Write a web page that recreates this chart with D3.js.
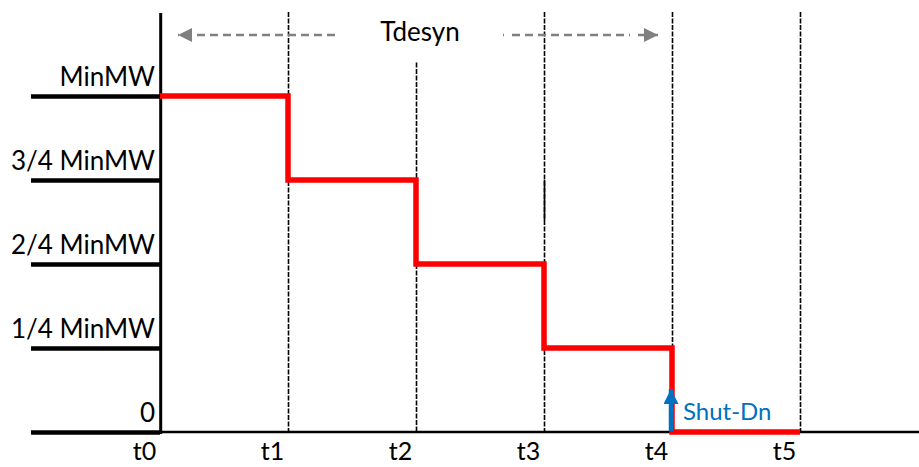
<!DOCTYPE html>
<html>
<head>
<meta charset="utf-8">
<script src="https://cdn.jsdelivr.net/npm/d3@7"></script>
<style>
  html, body { margin: 0; padding: 0; background: #fff; }
  svg { display: block; }
  text { font-family: Lato, "Open Sans", sans-serif; }
</style>
</head>
<body>
<svg id="chart" width="919" height="467"></svg>
<script>
// ---- data ----
const timeLabels = ["t0", "t1", "t2", "t3", "t4", "t5"];
const timeIndex = [0, 1, 2, 3, 4, 5];
const levelLabels = ["0", "1/4 MinMW", "2/4 MinMW", "3/4 MinMW", "MinMW"];
const levelValues = [0, 0.25, 0.5, 0.75, 1];
// output level at each time point (step held until the next time)
const stepLevels = [1, 0.75, 0.5, 0.25, 0, 0];
// vertical marker lines at times, and the level where each one starts (top)
const markerTimes = [1, 2, 3, 4, 5];
const markerTops = [1.25, 1.1, 1.25, 1.25, 1.25];
const spanLabel = "Tdesyn";
const shutLabel = "Shut-Dn";

// ---- layout ----
const svg = d3.select("#chart");
const x0 = 160, xEnd = 919;
const x = d3.scaleLinear().domain([0, 5]).range([x0, 800]);
const y = d3.scaleLinear().domain([0, 1.25]).range([432, 12]);

// arrow markers
const defs = svg.append("defs");
defs.append("marker").attr("id", "grayHead")
  .attr("viewBox", "0 0 10 10").attr("refX", 10).attr("refY", 5)
  .attr("markerUnits", "userSpaceOnUse")
  .attr("markerWidth", 15).attr("markerHeight", 14).attr("orient", "auto")
  .append("path").attr("d", "M0,0 L10,5 L0,10 Z").attr("fill", "#808080");
defs.append("marker").attr("id", "blueHead")
  .attr("viewBox", "0 0 10 10").attr("refX", 10).attr("refY", 5)
  .attr("markerUnits", "userSpaceOnUse")
  .attr("markerWidth", 16).attr("markerHeight", 15).attr("orient", "auto")
  .append("path").attr("d", "M0,0 L10,5 L0,10 Z").attr("fill", "#0070C0");

// vertical dashed marker lines
svg.append("g").selectAll("line").data(markerTimes).join("line")
  .attr("x1", d => x(d) + 0.5).attr("x2", d => x(d) + 0.5)
  .attr("y1", (d, i) => y(markerTops[i])).attr("y2", y(0))
  .attr("stroke", "#000").attr("stroke-width", 1.6)
  .attr("stroke-dasharray", "5,1.5");
// small solid segment on t3 line
svg.append("line")
  .attr("x1", x(3) + 0.5).attr("x2", x(3) + 0.5)
  .attr("y1", y(0.75)).attr("y2", y(0.63))
  .attr("stroke", "#000").attr("stroke-width", 1.6);

// x baseline (thin, right of y axis)
svg.append("line").attr("x1", x0).attr("x2", xEnd)
  .attr("y1", y(0)).attr("y2", y(0))
  .attr("stroke", "#000").attr("stroke-width", 2.5);

// y axis with level ticks extending to the left
const yAxis = d3.axisLeft(y).tickValues(levelValues)
  .tickFormat((d, i) => levelLabels[i]).tickSize(129).tickPadding(0);
const gy = svg.append("g").attr("transform", `translate(${x0},0)`).call(yAxis);
gy.select(".domain").remove();
gy.selectAll(".tick line").attr("stroke", "#000").attr("stroke-width", 4.5);
gy.selectAll(".tick text")
  .attr("x", -5).attr("dy", -11)
  .attr("text-anchor", "end")
  .attr("font-size", 26).attr("fill", "#000")
  .style("font-family", "Lato, 'Open Sans', sans-serif");
// vertical y axis line
svg.append("line").attr("x1", x0 + 0.7).attr("x2", x0 + 0.7)
  .attr("y1", y(1.25) + 1).attr("y2", y(0) + 2)
  .attr("stroke", "#000").attr("stroke-width", 3);

// x axis labels
const xAxis = d3.axisBottom(x).tickValues(timeIndex)
  .tickFormat((d, i) => timeLabels[i]).tickSize(0);
const gx = svg.append("g").attr("transform", `translate(0,${y(0)})`).call(xAxis);
gx.select(".domain").remove();
gx.selectAll(".tick text")
  .attr("x", -16).attr("y", 28).attr("dy", 0)
  .attr("font-size", 25).attr("fill", "#000")
  .style("font-family", "Lato, 'Open Sans', sans-serif");

// red step line
const pts = timeIndex.map((t, i) => [t, stepLevels[i]]);
const line = d3.line().x(d => x(d[0])).y(d => y(d[1])).curve(d3.curveStepAfter);
svg.append("path").datum(pts).attr("d", line)
  .attr("fill", "none").attr("stroke", "#FF0000").attr("stroke-width", 5.5)
  .attr("stroke-linejoin", "miter");

// Tdesyn span arrows
const ay = 35;
svg.append("line").attr("x1", 335).attr("x2", 178).attr("y1", ay).attr("y2", ay)
  .attr("stroke", "#808080").attr("stroke-width", 2.5)
  .attr("stroke-dasharray", "8,5").attr("marker-end", "url(#grayHead)");
svg.append("line").attr("x1", 503).attr("x2", 658).attr("y1", ay).attr("y2", ay)
  .attr("stroke", "#808080").attr("stroke-width", 2.5)
  .attr("stroke-dasharray", "1,8,8,5,8,5,8,5,8,5,8,5,8,5,8,5,8,5,8,5").attr("marker-end", "url(#grayHead)");
svg.append("text").attr("x", 420).attr("y", 41).attr("text-anchor", "middle")
  .attr("font-size", 26).attr("fill", "#000").text(spanLabel);

// Shut-Dn arrow and label
svg.append("line").attr("x1", x(4) - 1).attr("x2", x(4) - 1)
  .attr("y1", y(0) - 1).attr("y2", 389)
  .attr("stroke", "#0070C0").attr("stroke-width", 4.5)
  .attr("marker-end", "url(#blueHead)");
svg.append("text").attr("x", 683).attr("y", 420)
  .attr("font-size", 24).attr("fill", "#0070C0").text(shutLabel);
</script>
</body>
</html>
